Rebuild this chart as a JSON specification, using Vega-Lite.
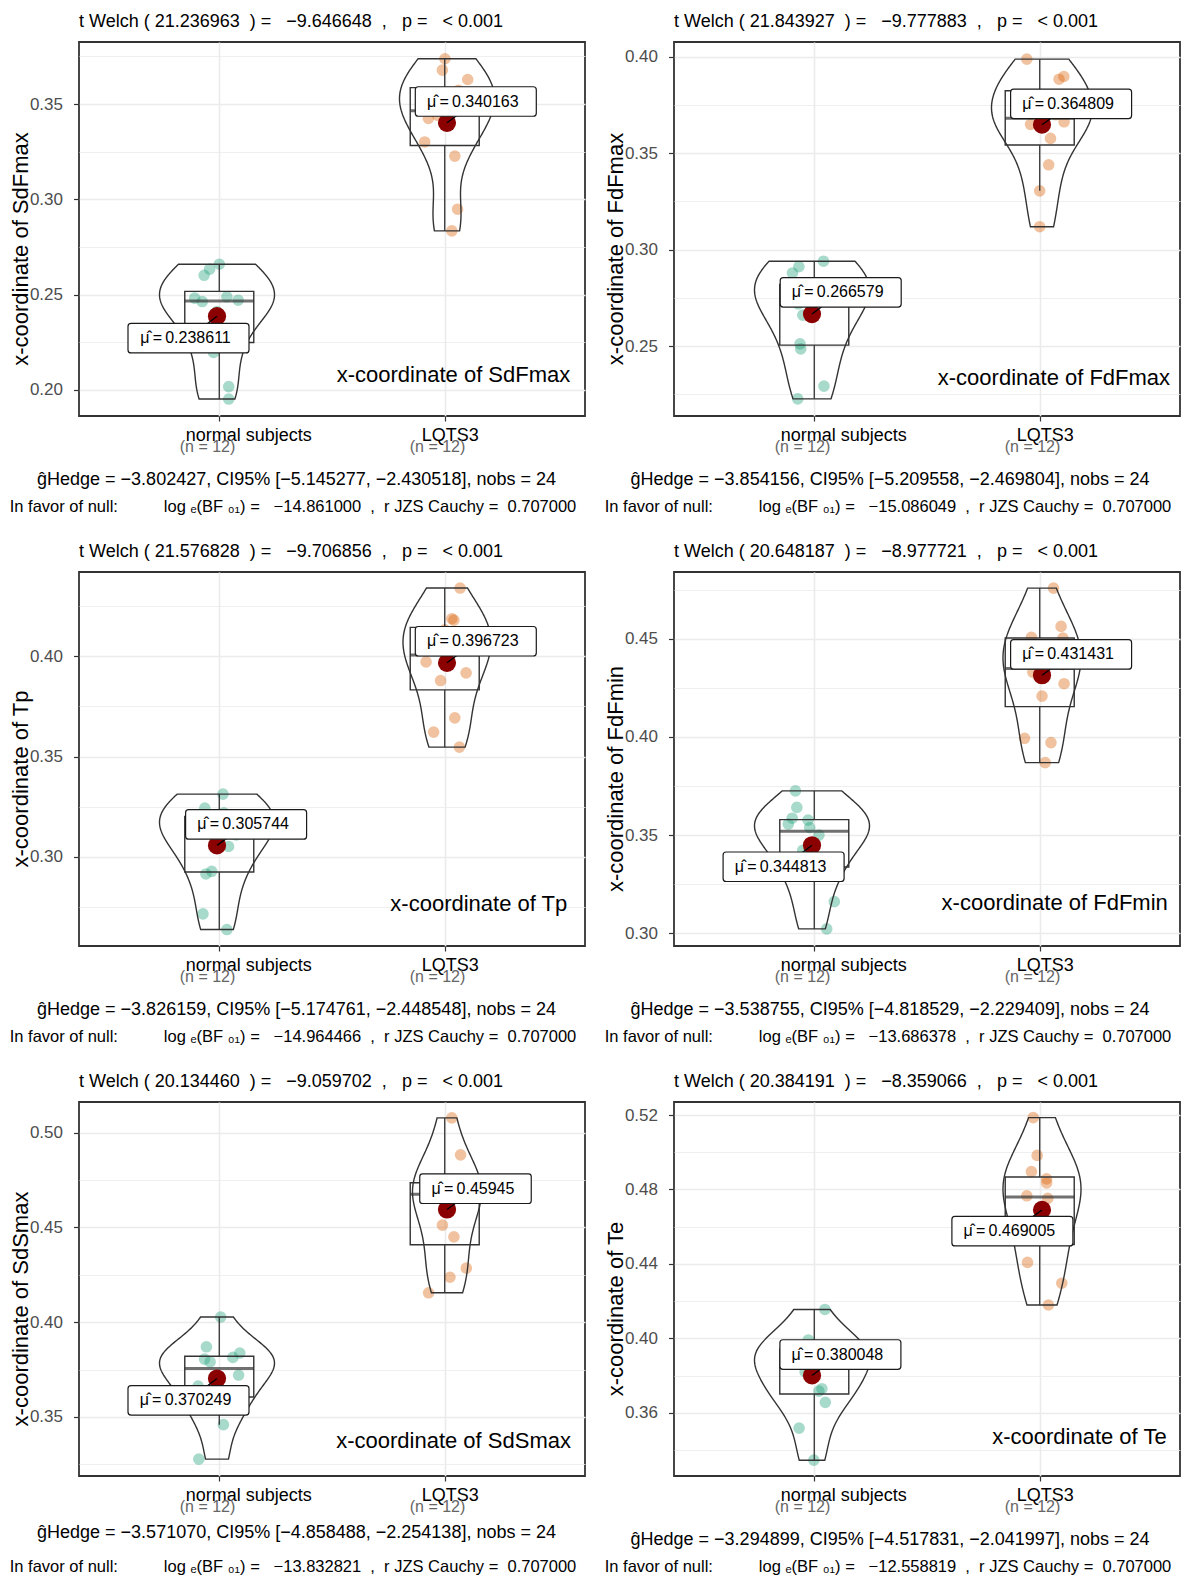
{
"$schema": "https://vega.github.io/schema/vega-lite/v6.json",
"background": "white",
"padding": {"left": 8, "top": 11, "right": 4, "bottom": 4},
"config": {"font": "Liberation Sans", "view": {"stroke": "#333333", "strokeWidth": 1.8}, "title": {"fontWeight": "normal"}},
"datasets": {
"pts": [
{"p":"SdFmax","pos":1,"xj":1.01,"v":0.2659},{"p":"SdFmax","pos":1,"xj":0.968,"v":0.2633},{"p":"SdFmax","pos":1,"xj":0.944,"v":0.2601},{"p":"SdFmax","pos":1,"xj":0.903,"v":0.2481},{"p":"SdFmax","pos":1,"xj":0.936,"v":0.2463},{"p":"SdFmax","pos":1,"xj":1.043,"v":0.2488},{"p":"SdFmax","pos":1,"xj":1.092,"v":0.2470},{"p":"SdFmax","pos":1,"xj":0.985,"v":0.2196},{"p":"SdFmax","pos":1,"xj":1.051,"v":0.2016},{"p":"SdFmax","pos":1,"xj":1.051,"v":0.1951},{"p":"SdFmax","pos":1,"xj":0.97,"v":0.2265},{"p":"SdFmax","pos":1,"xj":1.0,"v":0.2410},
{"p":"SdFmax","pos":2,"xj":1.991,"v":0.3738},{"p":"SdFmax","pos":2,"xj":1.98,"v":0.3678},{"p":"SdFmax","pos":2,"xj":2.09,"v":0.3629},{"p":"SdFmax","pos":2,"xj":1.919,"v":0.3425},{"p":"SdFmax","pos":2,"xj":1.903,"v":0.3301},{"p":"SdFmax","pos":2,"xj":2.034,"v":0.3227},{"p":"SdFmax","pos":2,"xj":2.046,"v":0.2948},{"p":"SdFmax","pos":2,"xj":2.021,"v":0.2834},{"p":"SdFmax","pos":2,"xj":2.05,"v":0.3572},{"p":"SdFmax","pos":2,"xj":1.96,"v":0.3440},{"p":"SdFmax","pos":2,"xj":2.04,"v":0.3490},{"p":"SdFmax","pos":2,"xj":1.97,"v":0.3538},
{"p":"FdFmax","pos":1,"xj":1.05,"v":0.2940},{"p":"FdFmax","pos":1,"xj":0.943,"v":0.2912},{"p":"FdFmax","pos":1,"xj":0.915,"v":0.2879},{"p":"FdFmax","pos":1,"xj":0.948,"v":0.2511},{"p":"FdFmax","pos":1,"xj":0.951,"v":0.2485},{"p":"FdFmax","pos":1,"xj":1.052,"v":0.2292},{"p":"FdFmax","pos":1,"xj":0.938,"v":0.2226},{"p":"FdFmax","pos":1,"xj":0.96,"v":0.2660},{"p":"FdFmax","pos":1,"xj":0.94,"v":0.2718},{"p":"FdFmax","pos":1,"xj":1.03,"v":0.2780},{"p":"FdFmax","pos":1,"xj":0.99,"v":0.2787},{"p":"FdFmax","pos":1,"xj":1.06,"v":0.2800},
{"p":"FdFmax","pos":2,"xj":1.934,"v":0.3988},{"p":"FdFmax","pos":2,"xj":2.074,"v":0.3884},{"p":"FdFmax","pos":2,"xj":2.095,"v":0.3898},{"p":"FdFmax","pos":2,"xj":2.096,"v":0.3663},{"p":"FdFmax","pos":2,"xj":2.037,"v":0.3577},{"p":"FdFmax","pos":2,"xj":2.029,"v":0.3440},{"p":"FdFmax","pos":2,"xj":1.99,"v":0.3305},{"p":"FdFmax","pos":2,"xj":1.99,"v":0.3119},{"p":"FdFmax","pos":2,"xj":1.95,"v":0.3650},{"p":"FdFmax","pos":2,"xj":2.06,"v":0.3700},{"p":"FdFmax","pos":2,"xj":1.97,"v":0.3749},{"p":"FdFmax","pos":2,"xj":2.03,"v":0.3804},
{"p":"Tp","pos":1,"xj":1.026,"v":0.3313},{"p":"Tp","pos":1,"xj":0.947,"v":0.3243},{"p":"Tp","pos":1,"xj":1.05,"v":0.3052},{"p":"Tp","pos":1,"xj":0.977,"v":0.2928},{"p":"Tp","pos":1,"xj":0.952,"v":0.2915},{"p":"Tp","pos":1,"xj":0.939,"v":0.2716},{"p":"Tp","pos":1,"xj":1.043,"v":0.2638},{"p":"Tp","pos":1,"xj":1.084,"v":0.3110},{"p":"Tp","pos":1,"xj":0.96,"v":0.3165},{"p":"Tp","pos":1,"xj":1.06,"v":0.3194},{"p":"Tp","pos":1,"xj":0.93,"v":0.3195},{"p":"Tp","pos":1,"xj":1.03,"v":0.3220},
{"p":"Tp","pos":2,"xj":2.057,"v":0.4340},{"p":"Tp","pos":2,"xj":2.021,"v":0.4187},{"p":"Tp","pos":2,"xj":1.909,"v":0.3972},{"p":"Tp","pos":2,"xj":2.083,"v":0.3917},{"p":"Tp","pos":2,"xj":1.972,"v":0.3879},{"p":"Tp","pos":2,"xj":2.034,"v":0.3693},{"p":"Tp","pos":2,"xj":1.942,"v":0.3622},{"p":"Tp","pos":2,"xj":2.054,"v":0.3547},{"p":"Tp","pos":2,"xj":2.03,"v":0.4180},{"p":"Tp","pos":2,"xj":1.99,"v":0.4132},{"p":"Tp","pos":2,"xj":1.95,"v":0.4040},{"p":"Tp","pos":2,"xj":2.05,"v":0.4098},
{"p":"FdFmin","pos":1,"xj":0.928,"v":0.3725},{"p":"FdFmin","pos":1,"xj":0.934,"v":0.3641},{"p":"FdFmin","pos":1,"xj":0.914,"v":0.3586},{"p":"FdFmin","pos":1,"xj":0.983,"v":0.3576},{"p":"FdFmin","pos":1,"xj":0.897,"v":0.3556},{"p":"FdFmin","pos":1,"xj":1.097,"v":0.3161},{"p":"FdFmin","pos":1,"xj":1.064,"v":0.3022},{"p":"FdFmin","pos":1,"xj":0.95,"v":0.3300},{"p":"FdFmin","pos":1,"xj":1.04,"v":0.3350},{"p":"FdFmin","pos":1,"xj":0.96,"v":0.3423},{"p":"FdFmin","pos":1,"xj":1.03,"v":0.3500},{"p":"FdFmin","pos":1,"xj":0.99,"v":0.3538},
{"p":"FdFmin","pos":2,"xj":2.05,"v":0.4758},{"p":"FdFmin","pos":2,"xj":2.083,"v":0.4563},{"p":"FdFmin","pos":2,"xj":1.954,"v":0.4507},{"p":"FdFmin","pos":2,"xj":2.091,"v":0.4503},{"p":"FdFmin","pos":2,"xj":2.096,"v":0.4271},{"p":"FdFmin","pos":2,"xj":2.0,"v":0.4208},{"p":"FdFmin","pos":2,"xj":1.924,"v":0.3993},{"p":"FdFmin","pos":2,"xj":2.039,"v":0.3971},{"p":"FdFmin","pos":2,"xj":2.014,"v":0.3869},{"p":"FdFmin","pos":2,"xj":2.09,"v":0.4368},{"p":"FdFmin","pos":2,"xj":1.96,"v":0.4330},{"p":"FdFmin","pos":2,"xj":2.03,"v":0.4431},
{"p":"SdSmax","pos":1,"xj":1.016,"v":0.4027},{"p":"SdSmax","pos":1,"xj":0.954,"v":0.3870},{"p":"SdSmax","pos":1,"xj":0.946,"v":0.3805},{"p":"SdSmax","pos":1,"xj":1.069,"v":0.3814},{"p":"SdSmax","pos":1,"xj":1.099,"v":0.3837},{"p":"SdSmax","pos":1,"xj":1.094,"v":0.3721},{"p":"SdSmax","pos":1,"xj":0.918,"v":0.3663},{"p":"SdSmax","pos":1,"xj":1.028,"v":0.3459},{"p":"SdSmax","pos":1,"xj":0.921,"v":0.3277},{"p":"SdSmax","pos":1,"xj":0.97,"v":0.3790},{"p":"SdSmax","pos":1,"xj":0.96,"v":0.3540},{"p":"SdSmax","pos":1,"xj":1.04,"v":0.3627},
{"p":"SdSmax","pos":2,"xj":2.021,"v":0.5078},{"p":"SdSmax","pos":2,"xj":2.059,"v":0.4883},{"p":"SdSmax","pos":2,"xj":1.98,"v":0.4512},{"p":"SdSmax","pos":2,"xj":2.03,"v":0.4450},{"p":"SdSmax","pos":2,"xj":2.084,"v":0.4285},{"p":"SdSmax","pos":2,"xj":2.013,"v":0.4237},{"p":"SdSmax","pos":2,"xj":1.92,"v":0.4155},{"p":"SdSmax","pos":2,"xj":2.04,"v":0.4670},{"p":"SdSmax","pos":2,"xj":1.96,"v":0.4680},{"p":"SdSmax","pos":2,"xj":2.06,"v":0.4700},{"p":"SdSmax","pos":2,"xj":1.97,"v":0.4730},{"p":"SdSmax","pos":2,"xj":2.02,"v":0.4754},
{"p":"Te","pos":1,"xj":1.056,"v":0.4155},{"p":"Te","pos":1,"xj":0.984,"v":0.3991},{"p":"Te","pos":1,"xj":1.043,"v":0.3729},{"p":"Te","pos":1,"xj":1.03,"v":0.3716},{"p":"Te","pos":1,"xj":1.058,"v":0.3656},{"p":"Te","pos":1,"xj":0.944,"v":0.3517},{"p":"Te","pos":1,"xj":1.008,"v":0.3345},{"p":"Te","pos":1,"xj":0.97,"v":0.3820},{"p":"Te","pos":1,"xj":1.05,"v":0.3870},{"p":"Te","pos":1,"xj":0.95,"v":0.3911},{"p":"Te","pos":1,"xj":1.02,"v":0.3936},{"p":"Te","pos":1,"xj":0.99,"v":0.3960},
{"p":"Te","pos":2,"xj":1.962,"v":0.5186},{"p":"Te","pos":2,"xj":1.979,"v":0.4983},{"p":"Te","pos":2,"xj":1.954,"v":0.4896},{"p":"Te","pos":2,"xj":2.02,"v":0.4857},{"p":"Te","pos":2,"xj":2.02,"v":0.4835},{"p":"Te","pos":2,"xj":1.934,"v":0.4766},{"p":"Te","pos":2,"xj":2.025,"v":0.4752},{"p":"Te","pos":2,"xj":1.937,"v":0.4408},{"p":"Te","pos":2,"xj":2.086,"v":0.4296},{"p":"Te","pos":2,"xj":2.028,"v":0.4179},{"p":"Te","pos":2,"xj":1.96,"v":0.4536},{"p":"Te","pos":2,"xj":2.04,"v":0.4587}
],
"means": [
{"p":"SdFmax","pos":1,"v":0.238611,"label":"\u03bc\u0302\u2009=\u20090.238611"},{"p":"SdFmax","pos":2,"v":0.340163,"label":"\u03bc\u0302\u2009=\u20090.340163"},
{"p":"FdFmax","pos":1,"v":0.266579,"label":"\u03bc\u0302\u2009=\u20090.266579"},{"p":"FdFmax","pos":2,"v":0.364809,"label":"\u03bc\u0302\u2009=\u20090.364809"},
{"p":"Tp","pos":1,"v":0.305744,"label":"\u03bc\u0302\u2009=\u20090.305744"},{"p":"Tp","pos":2,"v":0.396723,"label":"\u03bc\u0302\u2009=\u20090.396723"},
{"p":"FdFmin","pos":1,"v":0.344813,"label":"\u03bc\u0302\u2009=\u20090.344813"},{"p":"FdFmin","pos":2,"v":0.431431,"label":"\u03bc\u0302\u2009=\u20090.431431"},
{"p":"SdSmax","pos":1,"v":0.370249,"label":"\u03bc\u0302\u2009=\u20090.370249"},{"p":"SdSmax","pos":2,"v":0.45945,"label":"\u03bc\u0302\u2009=\u20090.45945"},
{"p":"Te","pos":1,"v":0.380048,"label":"\u03bc\u0302\u2009=\u20090.380048"},{"p":"Te","pos":2,"v":0.469005,"label":"\u03bc\u0302\u2009=\u20090.469005"}
]
},
"spacing": 25,
"vconcat": [
{"hconcat": [
{
"width": 506, "height": 374,
"title": {"text": "t Welch ( 21.236963\u00a0\u00a0) =\u00a0\u00a0\u00a0\u22129.646648\u00a0\u00a0,\u00a0\u00a0\u00a0p =\u00a0\u00a0\u00a0< 0.001", "anchor": "start", "frame": "group", "fontSize": 18, "fontWeight": "normal", "color": "#000000", "offset": -2.7, "baseline": "alphabetic"},
"layer": [
{"data": {"name": "pts"}, "transform": [{"filter": "datum.p == 'SdFmax'"}], "mark": {"type": "circle", "size": 135, "opacity": 0.38}, "encoding": {"x": {"field": "xj", "type": "quantitative", "scale": {"domain": [0.4, 2.6], "nice": false, "zero": false}, "axis": null}, "y": {"field": "v", "type": "quantitative", "title": "x-coordinate of SdFmax", "scale": {"domain": [0.1862, 0.3826], "nice": false, "zero": false}, "axis": {"values": [0.2, 0.225, 0.25, 0.275, 0.3, 0.325, 0.35, 0.375], "labelExpr": "abs(datum.value*20 - round(datum.value*20)) < 0.001 ? format(datum.value, '.2f') : ''", "labelFontSize": 17, "labelColor": "#4D4D4D", "labelPadding": 11, "labelOverlap": false, "labelFlush": false, "tickSize": 5.5, "tickColor": "#333333", "tickWidth": 1.2, "tickOpacity": {"condition": {"test": "abs(datum.value*20 - round(datum.value*20)) < 0.001", "value": 1}, "value": 0}, "grid": true, "gridColor": "#EBEBEB", "gridWidth": {"condition": {"test": "abs(datum.value*20 - round(datum.value*20)) < 0.001", "value": 1.6}, "value": 0.8}, "domain": false, "titleFontSize": 22, "titleFontWeight": "normal", "titleColor": "#000000", "titleAngle": 270, "titleX": -52, "titleY": 206.5, "titleAlign": "center", "titleBaseline": "alphabetic"}}, "color": {"field": "pos", "type": "nominal", "scale": {"domain": [1, 2], "range": ["#1B9E77", "#D95F02"]}, "legend": null}}},
{"data": {"name": "pts"}, "transform": [{"filter": "datum.p == 'SdFmax'"}], "mark": {"type": "boxplot", "size": 69, "extent": 1.5, "outliers": false, "box": {"fill": "transparent", "stroke": "#333333", "strokeWidth": 1.4}, "median": {"color": "#333333", "thickness": 3}, "rule": {"color": "#333333", "strokeWidth": 1.3}}, "encoding": {"x": {"field": "pos", "type": "quantitative", "scale": {"domain": [0.4, 2.6], "nice": false, "zero": false}, "axis": {"orient": "bottom", "values": [1, 2], "labelExpr": "datum.value == 1 ? 'normal subjects' : 'LQTS3'", "labelFontSize": 18, "labelColor": "#000000", "labelPadding": 5, "labelOffset": {"condition": {"test": "datum.value == 1", "value": 29}, "value": 5}, "labelFlush": false, "labelOverlap": false, "labelBound": false, "tickSize": 5, "tickColor": "#333333", "tickWidth": 1.2, "grid": true, "gridColor": "#EBEBEB", "gridWidth": 1.6, "domain": false, "title": "\u011dHedge = \u22123.802427, CI95% [\u22125.145277, \u22122.430518], nobs = 24", "titleFontSize": 18, "titleFontWeight": "normal", "titleColor": "#000000", "titleX": 217, "titleY": 68, "titleAlign": "center", "titleBaseline": "alphabetic"}}, "y": {"field": "v", "type": "quantitative", "title": "x-coordinate of SdFmax", "scale": {"domain": [0.1862, 0.3826], "nice": false, "zero": false}}}},
{"data": {"name": "pts"}, "transform": [{"filter": "datum.p == 'SdFmax' && datum.pos == 1"}, {"density": "v", "as": ["v", "density"], "steps": 120}], "mark": {"type": "area", "orient": "horizontal", "fill": "transparent", "stroke": "#333333", "strokeWidth": 1.4}, "encoding": {"x": {"field": "density", "type": "quantitative", "stack": "center", "impute": null, "scale": {"nice": false, "zero": true, "range": [80.5, 195.5]}, "axis": null}, "y": {"field": "v", "type": "quantitative", "title": "x-coordinate of SdFmax", "scale": {"domain": [0.1862, 0.3826], "nice": false, "zero": false}}}},
{"data": {"name": "pts"}, "transform": [{"filter": "datum.p == 'SdFmax' && datum.pos == 2"}, {"density": "v", "as": ["v", "density"], "steps": 120}], "mark": {"type": "area", "orient": "horizontal", "fill": "transparent", "stroke": "#333333", "strokeWidth": 1.4}, "encoding": {"x": {"field": "density", "type": "quantitative", "stack": "center", "impute": null, "scale": {"nice": false, "zero": true, "range": [320.5, 415.5]}, "axis": null}, "y": {"field": "v", "type": "quantitative", "title": "x-coordinate of SdFmax", "scale": {"domain": [0.1862, 0.3826], "nice": false, "zero": false}}}},
{"data": {"name": "means"}, "transform": [{"filter": "datum.p == 'SdFmax'"}], "mark": {"type": "circle", "size": 330, "color": "#8B0000", "opacity": 1}, "encoding": {"x": {"field": "pos", "type": "quantitative", "scale": {"domain": [0.4, 2.6], "nice": false, "zero": false}, "axis": null}, "y": {"field": "v", "type": "quantitative", "title": "x-coordinate of SdFmax", "scale": {"domain": [0.1862, 0.3826], "nice": false, "zero": false}}}},
{"data": {"name": "means"}, "transform": [{"filter": "datum.p == 'SdFmax' && datum.pos == 1"}], "mark": {"type": "rule", "color": "#000000", "strokeWidth": 1.3, "x2Offset": -28.5, "y2Offset": 22}, "encoding": {"x": {"field": "pos", "type": "quantitative", "scale": {"domain": [0.4, 2.6], "nice": false, "zero": false}, "axis": null}, "x2": {"field": "pos"}, "y": {"field": "v", "type": "quantitative", "title": "x-coordinate of SdFmax", "scale": {"domain": [0.1862, 0.3826], "nice": false, "zero": false}}, "y2": {"field": "v"}}},
{"data": {"name": "means"}, "transform": [{"filter": "datum.p == 'SdFmax' && datum.pos == 1"}], "mark": {"type": "point", "shape": "M-0.95,-0.244L0.95,-0.244Q1,-0.244 1,-0.194L1,0.194Q1,0.244 0.95,0.244L-0.95,0.244Q-1,0.244 -1,0.194L-1,-0.194Q-1,-0.244 -0.95,-0.244Z", "size": 14641, "filled": true, "fill": "#FFFFFF", "stroke": "#1A1A1A", "strokeWidth": 1.2, "opacity": 1, "xOffset": -28.5, "yOffset": 22}, "encoding": {"x": {"field": "pos", "type": "quantitative", "scale": {"domain": [0.4, 2.6], "nice": false, "zero": false}, "axis": null}, "y": {"field": "v", "type": "quantitative", "title": "x-coordinate of SdFmax", "scale": {"domain": [0.1862, 0.3826], "nice": false, "zero": false}}}},
{"data": {"name": "means"}, "transform": [{"filter": "datum.p == 'SdFmax' && datum.pos == 1"}], "mark": {"type": "text", "fontSize": 16, "color": "#000000", "align": "center", "baseline": "middle", "xOffset": -31.5, "yOffset": 22}, "encoding": {"x": {"field": "pos", "type": "quantitative", "scale": {"domain": [0.4, 2.6], "nice": false, "zero": false}, "axis": null}, "y": {"field": "v", "type": "quantitative", "title": "x-coordinate of SdFmax", "scale": {"domain": [0.1862, 0.3826], "nice": false, "zero": false}}, "text": {"field": "label"}}},
{"data": {"name": "means"}, "transform": [{"filter": "datum.p == 'SdFmax' && datum.pos == 2"}], "mark": {"type": "rule", "color": "#000000", "strokeWidth": 1.3, "x2Offset": 28.8, "y2Offset": -21.3}, "encoding": {"x": {"field": "pos", "type": "quantitative", "scale": {"domain": [0.4, 2.6], "nice": false, "zero": false}, "axis": null}, "x2": {"field": "pos"}, "y": {"field": "v", "type": "quantitative", "title": "x-coordinate of SdFmax", "scale": {"domain": [0.1862, 0.3826], "nice": false, "zero": false}}, "y2": {"field": "v"}}},
{"data": {"name": "means"}, "transform": [{"filter": "datum.p == 'SdFmax' && datum.pos == 2"}], "mark": {"type": "point", "shape": "M-0.95,-0.244L0.95,-0.244Q1,-0.244 1,-0.194L1,0.194Q1,0.244 0.95,0.244L-0.95,0.244Q-1,0.244 -1,0.194L-1,-0.194Q-1,-0.244 -0.95,-0.244Z", "size": 14641, "filled": true, "fill": "#FFFFFF", "stroke": "#1A1A1A", "strokeWidth": 1.2, "opacity": 1, "xOffset": 28.8, "yOffset": -21.3}, "encoding": {"x": {"field": "pos", "type": "quantitative", "scale": {"domain": [0.4, 2.6], "nice": false, "zero": false}, "axis": null}, "y": {"field": "v", "type": "quantitative", "title": "x-coordinate of SdFmax", "scale": {"domain": [0.1862, 0.3826], "nice": false, "zero": false}}}},
{"data": {"name": "means"}, "transform": [{"filter": "datum.p == 'SdFmax' && datum.pos == 2"}], "mark": {"type": "text", "fontSize": 16, "color": "#000000", "align": "center", "baseline": "middle", "xOffset": 25.8, "yOffset": -21.3}, "encoding": {"x": {"field": "pos", "type": "quantitative", "scale": {"domain": [0.4, 2.6], "nice": false, "zero": false}, "axis": null}, "y": {"field": "v", "type": "quantitative", "title": "x-coordinate of SdFmax", "scale": {"domain": [0.1862, 0.3826], "nice": false, "zero": false}}, "text": {"field": "label"}}},
{"data": {"name": "means"}, "transform": [{"filter": "datum.p == 'SdFmax' && datum.pos == 1"}], "mark": {"type": "text", "align": "right", "baseline": "alphabetic", "fontSize": 22, "color": "#000000"}, "encoding": {"x": {"datum": 2.536, "type": "quantitative", "scale": {"domain": [0.4, 2.6], "nice": false, "zero": false}, "axis": null}, "y": {"datum": 0.2042, "type": "quantitative", "title": "x-coordinate of SdFmax", "scale": {"domain": [0.1862, 0.3826], "nice": false, "zero": false}}, "text": {"value": "x-coordinate of SdFmax"}}},
{"data": {"name": "means"}, "transform": [{"filter": "datum.p == 'SdFmax'"}], "mark": {"type": "point", "opacity": 0}, "encoding": {"x": {"field": "pos", "type": "quantitative", "scale": {"domain": [0.4, 2.6], "nice": false, "zero": false}, "axis": {"orient": "bottom", "values": [1, 2], "labelExpr": "'(n = 12)'", "labelFontSize": 16, "labelColor": "#666666", "labelPadding": 17, "labelOffset": -10, "labelFlush": false, "labelOverlap": false, "labelBound": false, "ticks": true, "tickSize": 5, "tickOpacity": 0, "grid": false, "domain": false, "title": "In favor of null:\u00a0\u00a0\u00a0\u00a0\u00a0\u00a0\u00a0\u00a0\u00a0\u00a0log\u00a0\u2091(BF\u00a0\u2080\u2081) =\u00a0\u00a0\u00a0\u221214.861000\u00a0\u00a0,\u00a0\u00a0r JZS Cauchy =\u00a0\u00a00.707000", "titleFontSize": 16.5, "titleFontWeight": "normal", "titleColor": "#000000", "titleX": 213.5, "titleY": 95.5, "titleAlign": "center", "titleBaseline": "alphabetic"}}, "y": {"field": "v", "type": "quantitative", "title": "x-coordinate of SdFmax", "scale": {"domain": [0.1862, 0.3826], "nice": false, "zero": false}}}}
],
"resolve": {"scale": {"x": "independent"}, "axis": {"x": "independent"}}
},
{
"width": 506, "height": 374,
"title": {"text": "t Welch ( 21.843927\u00a0\u00a0) =\u00a0\u00a0\u00a0\u22129.777883\u00a0\u00a0,\u00a0\u00a0\u00a0p =\u00a0\u00a0\u00a0< 0.001", "anchor": "start", "frame": "group", "fontSize": 18, "fontWeight": "normal", "color": "#000000", "offset": -2.7, "baseline": "alphabetic"},
"layer": [
{"data": {"name": "pts"}, "transform": [{"filter": "datum.p == 'FdFmax'"}], "mark": {"type": "circle", "size": 135, "opacity": 0.38}, "encoding": {"x": {"field": "xj", "type": "quantitative", "scale": {"domain": [0.4, 2.6], "nice": false, "zero": false}, "axis": null}, "y": {"field": "v", "type": "quantitative", "title": "x-coordinate of FdFmax", "scale": {"domain": [0.2137, 0.4077], "nice": false, "zero": false}, "axis": {"values": [0.225, 0.25, 0.275, 0.3, 0.325, 0.35, 0.375, 0.4], "labelExpr": "abs(datum.value*20 - round(datum.value*20)) < 0.001 ? format(datum.value, '.2f') : ''", "labelFontSize": 17, "labelColor": "#4D4D4D", "labelPadding": 11, "labelOverlap": false, "labelFlush": false, "tickSize": 5.5, "tickColor": "#333333", "tickWidth": 1.2, "tickOpacity": {"condition": {"test": "abs(datum.value*20 - round(datum.value*20)) < 0.001", "value": 1}, "value": 0}, "grid": true, "gridColor": "#EBEBEB", "gridWidth": {"condition": {"test": "abs(datum.value*20 - round(datum.value*20)) < 0.001", "value": 1.6}, "value": 0.8}, "domain": false, "titleFontSize": 22, "titleFontWeight": "normal", "titleColor": "#000000", "titleAngle": 270, "titleX": -52, "titleY": 206.5, "titleAlign": "center", "titleBaseline": "alphabetic"}}, "color": {"field": "pos", "type": "nominal", "scale": {"domain": [1, 2], "range": ["#1B9E77", "#D95F02"]}, "legend": null}}},
{"data": {"name": "pts"}, "transform": [{"filter": "datum.p == 'FdFmax'"}], "mark": {"type": "boxplot", "size": 69, "extent": 1.5, "outliers": false, "box": {"fill": "transparent", "stroke": "#333333", "strokeWidth": 1.4}, "median": {"color": "#333333", "thickness": 3}, "rule": {"color": "#333333", "strokeWidth": 1.3}}, "encoding": {"x": {"field": "pos", "type": "quantitative", "scale": {"domain": [0.4, 2.6], "nice": false, "zero": false}, "axis": {"orient": "bottom", "values": [1, 2], "labelExpr": "datum.value == 1 ? 'normal subjects' : 'LQTS3'", "labelFontSize": 18, "labelColor": "#000000", "labelPadding": 5, "labelOffset": {"condition": {"test": "datum.value == 1", "value": 29}, "value": 5}, "labelFlush": false, "labelOverlap": false, "labelBound": false, "tickSize": 5, "tickColor": "#333333", "tickWidth": 1.2, "grid": true, "gridColor": "#EBEBEB", "gridWidth": 1.6, "domain": false, "title": "\u011dHedge = \u22123.854156, CI95% [\u22125.209558, \u22122.469804], nobs = 24", "titleFontSize": 18, "titleFontWeight": "normal", "titleColor": "#000000", "titleX": 215.5, "titleY": 68, "titleAlign": "center", "titleBaseline": "alphabetic"}}, "y": {"field": "v", "type": "quantitative", "title": "x-coordinate of FdFmax", "scale": {"domain": [0.2137, 0.4077], "nice": false, "zero": false}}}},
{"data": {"name": "pts"}, "transform": [{"filter": "datum.p == 'FdFmax' && datum.pos == 1"}, {"density": "v", "as": ["v", "density"], "steps": 120}], "mark": {"type": "area", "orient": "horizontal", "fill": "transparent", "stroke": "#333333", "strokeWidth": 1.4}, "encoding": {"x": {"field": "density", "type": "quantitative", "stack": "center", "impute": null, "scale": {"nice": false, "zero": true, "range": [80.5, 195.5]}, "axis": null}, "y": {"field": "v", "type": "quantitative", "title": "x-coordinate of FdFmax", "scale": {"domain": [0.2137, 0.4077], "nice": false, "zero": false}}}},
{"data": {"name": "pts"}, "transform": [{"filter": "datum.p == 'FdFmax' && datum.pos == 2"}, {"density": "v", "as": ["v", "density"], "steps": 120}], "mark": {"type": "area", "orient": "horizontal", "fill": "transparent", "stroke": "#333333", "strokeWidth": 1.4}, "encoding": {"x": {"field": "density", "type": "quantitative", "stack": "center", "impute": null, "scale": {"nice": false, "zero": true, "range": [317.5, 418.5]}, "axis": null}, "y": {"field": "v", "type": "quantitative", "title": "x-coordinate of FdFmax", "scale": {"domain": [0.2137, 0.4077], "nice": false, "zero": false}}}},
{"data": {"name": "means"}, "transform": [{"filter": "datum.p == 'FdFmax'"}], "mark": {"type": "circle", "size": 330, "color": "#8B0000", "opacity": 1}, "encoding": {"x": {"field": "pos", "type": "quantitative", "scale": {"domain": [0.4, 2.6], "nice": false, "zero": false}, "axis": null}, "y": {"field": "v", "type": "quantitative", "title": "x-coordinate of FdFmax", "scale": {"domain": [0.2137, 0.4077], "nice": false, "zero": false}}}},
{"data": {"name": "means"}, "transform": [{"filter": "datum.p == 'FdFmax' && datum.pos == 1"}], "mark": {"type": "rule", "color": "#000000", "strokeWidth": 1.3, "x2Offset": 28.7, "y2Offset": -21.7}, "encoding": {"x": {"field": "pos", "type": "quantitative", "scale": {"domain": [0.4, 2.6], "nice": false, "zero": false}, "axis": null}, "x2": {"field": "pos"}, "y": {"field": "v", "type": "quantitative", "title": "x-coordinate of FdFmax", "scale": {"domain": [0.2137, 0.4077], "nice": false, "zero": false}}, "y2": {"field": "v"}}},
{"data": {"name": "means"}, "transform": [{"filter": "datum.p == 'FdFmax' && datum.pos == 1"}], "mark": {"type": "point", "shape": "M-0.95,-0.244L0.95,-0.244Q1,-0.244 1,-0.194L1,0.194Q1,0.244 0.95,0.244L-0.95,0.244Q-1,0.244 -1,0.194L-1,-0.194Q-1,-0.244 -0.95,-0.244Z", "size": 14641, "filled": true, "fill": "#FFFFFF", "stroke": "#1A1A1A", "strokeWidth": 1.2, "opacity": 1, "xOffset": 28.7, "yOffset": -21.7}, "encoding": {"x": {"field": "pos", "type": "quantitative", "scale": {"domain": [0.4, 2.6], "nice": false, "zero": false}, "axis": null}, "y": {"field": "v", "type": "quantitative", "title": "x-coordinate of FdFmax", "scale": {"domain": [0.2137, 0.4077], "nice": false, "zero": false}}}},
{"data": {"name": "means"}, "transform": [{"filter": "datum.p == 'FdFmax' && datum.pos == 1"}], "mark": {"type": "text", "fontSize": 16, "color": "#000000", "align": "center", "baseline": "middle", "xOffset": 25.7, "yOffset": -21.7}, "encoding": {"x": {"field": "pos", "type": "quantitative", "scale": {"domain": [0.4, 2.6], "nice": false, "zero": false}, "axis": null}, "y": {"field": "v", "type": "quantitative", "title": "x-coordinate of FdFmax", "scale": {"domain": [0.2137, 0.4077], "nice": false, "zero": false}}, "text": {"field": "label"}}},
{"data": {"name": "means"}, "transform": [{"filter": "datum.p == 'FdFmax' && datum.pos == 2"}], "mark": {"type": "rule", "color": "#000000", "strokeWidth": 1.3, "x2Offset": 29.1, "y2Offset": -20.8}, "encoding": {"x": {"field": "pos", "type": "quantitative", "scale": {"domain": [0.4, 2.6], "nice": false, "zero": false}, "axis": null}, "x2": {"field": "pos"}, "y": {"field": "v", "type": "quantitative", "title": "x-coordinate of FdFmax", "scale": {"domain": [0.2137, 0.4077], "nice": false, "zero": false}}, "y2": {"field": "v"}}},
{"data": {"name": "means"}, "transform": [{"filter": "datum.p == 'FdFmax' && datum.pos == 2"}], "mark": {"type": "point", "shape": "M-0.95,-0.244L0.95,-0.244Q1,-0.244 1,-0.194L1,0.194Q1,0.244 0.95,0.244L-0.95,0.244Q-1,0.244 -1,0.194L-1,-0.194Q-1,-0.244 -0.95,-0.244Z", "size": 14641, "filled": true, "fill": "#FFFFFF", "stroke": "#1A1A1A", "strokeWidth": 1.2, "opacity": 1, "xOffset": 29.1, "yOffset": -20.8}, "encoding": {"x": {"field": "pos", "type": "quantitative", "scale": {"domain": [0.4, 2.6], "nice": false, "zero": false}, "axis": null}, "y": {"field": "v", "type": "quantitative", "title": "x-coordinate of FdFmax", "scale": {"domain": [0.2137, 0.4077], "nice": false, "zero": false}}}},
{"data": {"name": "means"}, "transform": [{"filter": "datum.p == 'FdFmax' && datum.pos == 2"}], "mark": {"type": "text", "fontSize": 16, "color": "#000000", "align": "center", "baseline": "middle", "xOffset": 26.1, "yOffset": -20.8}, "encoding": {"x": {"field": "pos", "type": "quantitative", "scale": {"domain": [0.4, 2.6], "nice": false, "zero": false}, "axis": null}, "y": {"field": "v", "type": "quantitative", "title": "x-coordinate of FdFmax", "scale": {"domain": [0.2137, 0.4077], "nice": false, "zero": false}}, "text": {"field": "label"}}},
{"data": {"name": "means"}, "transform": [{"filter": "datum.p == 'FdFmax' && datum.pos == 1"}], "mark": {"type": "text", "align": "right", "baseline": "alphabetic", "fontSize": 22, "color": "#000000"}, "encoding": {"x": {"datum": 2.557, "type": "quantitative", "scale": {"domain": [0.4, 2.6], "nice": false, "zero": false}, "axis": null}, "y": {"datum": 0.2300, "type": "quantitative", "title": "x-coordinate of FdFmax", "scale": {"domain": [0.2137, 0.4077], "nice": false, "zero": false}}, "text": {"value": "x-coordinate of FdFmax"}}},
{"data": {"name": "means"}, "transform": [{"filter": "datum.p == 'FdFmax'"}], "mark": {"type": "point", "opacity": 0}, "encoding": {"x": {"field": "pos", "type": "quantitative", "scale": {"domain": [0.4, 2.6], "nice": false, "zero": false}, "axis": {"orient": "bottom", "values": [1, 2], "labelExpr": "'(n = 12)'", "labelFontSize": 16, "labelColor": "#666666", "labelPadding": 17, "labelOffset": -10, "labelFlush": false, "labelOverlap": false, "labelBound": false, "ticks": true, "tickSize": 5, "tickOpacity": 0, "grid": false, "domain": false, "title": "In favor of null:\u00a0\u00a0\u00a0\u00a0\u00a0\u00a0\u00a0\u00a0\u00a0\u00a0log\u00a0\u2091(BF\u00a0\u2080\u2081) =\u00a0\u00a0\u00a0\u221215.086049\u00a0\u00a0,\u00a0\u00a0r JZS Cauchy =\u00a0\u00a00.707000", "titleFontSize": 16.5, "titleFontWeight": "normal", "titleColor": "#000000", "titleX": 213.5, "titleY": 95.5, "titleAlign": "center", "titleBaseline": "alphabetic"}}, "y": {"field": "v", "type": "quantitative", "title": "x-coordinate of FdFmax", "scale": {"domain": [0.2137, 0.4077], "nice": false, "zero": false}}}}
],
"resolve": {"scale": {"x": "independent"}, "axis": {"x": "independent"}}
}
], "spacing": 17},
{"hconcat": [
{
"width": 506, "height": 374,
"title": {"text": "t Welch ( 21.576828\u00a0\u00a0) =\u00a0\u00a0\u00a0\u22129.706856\u00a0\u00a0,\u00a0\u00a0\u00a0p =\u00a0\u00a0\u00a0< 0.001", "anchor": "start", "frame": "group", "fontSize": 18, "fontWeight": "normal", "color": "#000000", "offset": -2.7, "baseline": "alphabetic"},
"layer": [
{"data": {"name": "pts"}, "transform": [{"filter": "datum.p == 'Tp'"}], "mark": {"type": "circle", "size": 135, "opacity": 0.38}, "encoding": {"x": {"field": "xj", "type": "quantitative", "scale": {"domain": [0.4, 2.6], "nice": false, "zero": false}, "axis": null}, "y": {"field": "v", "type": "quantitative", "title": "x-coordinate of Tp", "scale": {"domain": [0.2556, 0.4420], "nice": false, "zero": false}, "axis": {"values": [0.275, 0.3, 0.325, 0.35, 0.375, 0.4, 0.425], "labelExpr": "abs(datum.value*20 - round(datum.value*20)) < 0.001 ? format(datum.value, '.2f') : ''", "labelFontSize": 17, "labelColor": "#4D4D4D", "labelPadding": 11, "labelOverlap": false, "labelFlush": false, "tickSize": 5.5, "tickColor": "#333333", "tickWidth": 1.2, "tickOpacity": {"condition": {"test": "abs(datum.value*20 - round(datum.value*20)) < 0.001", "value": 1}, "value": 0}, "grid": true, "gridColor": "#EBEBEB", "gridWidth": {"condition": {"test": "abs(datum.value*20 - round(datum.value*20)) < 0.001", "value": 1.6}, "value": 0.8}, "domain": false, "titleFontSize": 22, "titleFontWeight": "normal", "titleColor": "#000000", "titleAngle": 270, "titleX": -52, "titleY": 206.5, "titleAlign": "center", "titleBaseline": "alphabetic"}}, "color": {"field": "pos", "type": "nominal", "scale": {"domain": [1, 2], "range": ["#1B9E77", "#D95F02"]}, "legend": null}}},
{"data": {"name": "pts"}, "transform": [{"filter": "datum.p == 'Tp'"}], "mark": {"type": "boxplot", "size": 69, "extent": 1.5, "outliers": false, "box": {"fill": "transparent", "stroke": "#333333", "strokeWidth": 1.4}, "median": {"color": "#333333", "thickness": 3}, "rule": {"color": "#333333", "strokeWidth": 1.3}}, "encoding": {"x": {"field": "pos", "type": "quantitative", "scale": {"domain": [0.4, 2.6], "nice": false, "zero": false}, "axis": {"orient": "bottom", "values": [1, 2], "labelExpr": "datum.value == 1 ? 'normal subjects' : 'LQTS3'", "labelFontSize": 18, "labelColor": "#000000", "labelPadding": 5, "labelOffset": {"condition": {"test": "datum.value == 1", "value": 29}, "value": 5}, "labelFlush": false, "labelOverlap": false, "labelBound": false, "tickSize": 5, "tickColor": "#333333", "tickWidth": 1.2, "grid": true, "gridColor": "#EBEBEB", "gridWidth": 1.6, "domain": false, "title": "\u011dHedge = \u22123.826159, CI95% [\u22125.174761, \u22122.448548], nobs = 24", "titleFontSize": 18, "titleFontWeight": "normal", "titleColor": "#000000", "titleX": 217, "titleY": 68, "titleAlign": "center", "titleBaseline": "alphabetic"}}, "y": {"field": "v", "type": "quantitative", "title": "x-coordinate of Tp", "scale": {"domain": [0.2556, 0.4420], "nice": false, "zero": false}}}},
{"data": {"name": "pts"}, "transform": [{"filter": "datum.p == 'Tp' && datum.pos == 1"}, {"density": "v", "as": ["v", "density"], "steps": 120}], "mark": {"type": "area", "orient": "horizontal", "fill": "transparent", "stroke": "#333333", "strokeWidth": 1.4}, "encoding": {"x": {"field": "density", "type": "quantitative", "stack": "center", "impute": null, "scale": {"nice": false, "zero": true, "range": [80.5, 195.5]}, "axis": null}, "y": {"field": "v", "type": "quantitative", "title": "x-coordinate of Tp", "scale": {"domain": [0.2556, 0.4420], "nice": false, "zero": false}}}},
{"data": {"name": "pts"}, "transform": [{"filter": "datum.p == 'Tp' && datum.pos == 2"}, {"density": "v", "as": ["v", "density"], "steps": 120}], "mark": {"type": "area", "orient": "horizontal", "fill": "transparent", "stroke": "#333333", "strokeWidth": 1.4}, "encoding": {"x": {"field": "density", "type": "quantitative", "stack": "center", "impute": null, "scale": {"nice": false, "zero": true, "range": [324, 412]}, "axis": null}, "y": {"field": "v", "type": "quantitative", "title": "x-coordinate of Tp", "scale": {"domain": [0.2556, 0.4420], "nice": false, "zero": false}}}},
{"data": {"name": "means"}, "transform": [{"filter": "datum.p == 'Tp'"}], "mark": {"type": "circle", "size": 330, "color": "#8B0000", "opacity": 1}, "encoding": {"x": {"field": "pos", "type": "quantitative", "scale": {"domain": [0.4, 2.6], "nice": false, "zero": false}, "axis": null}, "y": {"field": "v", "type": "quantitative", "title": "x-coordinate of Tp", "scale": {"domain": [0.2556, 0.4420], "nice": false, "zero": false}}}},
{"data": {"name": "means"}, "transform": [{"filter": "datum.p == 'Tp' && datum.pos == 1"}], "mark": {"type": "rule", "color": "#000000", "strokeWidth": 1.3, "x2Offset": 29.1, "y2Offset": -21}, "encoding": {"x": {"field": "pos", "type": "quantitative", "scale": {"domain": [0.4, 2.6], "nice": false, "zero": false}, "axis": null}, "x2": {"field": "pos"}, "y": {"field": "v", "type": "quantitative", "title": "x-coordinate of Tp", "scale": {"domain": [0.2556, 0.4420], "nice": false, "zero": false}}, "y2": {"field": "v"}}},
{"data": {"name": "means"}, "transform": [{"filter": "datum.p == 'Tp' && datum.pos == 1"}], "mark": {"type": "point", "shape": "M-0.95,-0.244L0.95,-0.244Q1,-0.244 1,-0.194L1,0.194Q1,0.244 0.95,0.244L-0.95,0.244Q-1,0.244 -1,0.194L-1,-0.194Q-1,-0.244 -0.95,-0.244Z", "size": 14641, "filled": true, "fill": "#FFFFFF", "stroke": "#1A1A1A", "strokeWidth": 1.2, "opacity": 1, "xOffset": 29.1, "yOffset": -21}, "encoding": {"x": {"field": "pos", "type": "quantitative", "scale": {"domain": [0.4, 2.6], "nice": false, "zero": false}, "axis": null}, "y": {"field": "v", "type": "quantitative", "title": "x-coordinate of Tp", "scale": {"domain": [0.2556, 0.4420], "nice": false, "zero": false}}}},
{"data": {"name": "means"}, "transform": [{"filter": "datum.p == 'Tp' && datum.pos == 1"}], "mark": {"type": "text", "fontSize": 16, "color": "#000000", "align": "center", "baseline": "middle", "xOffset": 26.1, "yOffset": -21}, "encoding": {"x": {"field": "pos", "type": "quantitative", "scale": {"domain": [0.4, 2.6], "nice": false, "zero": false}, "axis": null}, "y": {"field": "v", "type": "quantitative", "title": "x-coordinate of Tp", "scale": {"domain": [0.2556, 0.4420], "nice": false, "zero": false}}, "text": {"field": "label"}}},
{"data": {"name": "means"}, "transform": [{"filter": "datum.p == 'Tp' && datum.pos == 2"}], "mark": {"type": "rule", "color": "#000000", "strokeWidth": 1.3, "x2Offset": 28.8, "y2Offset": -21.6}, "encoding": {"x": {"field": "pos", "type": "quantitative", "scale": {"domain": [0.4, 2.6], "nice": false, "zero": false}, "axis": null}, "x2": {"field": "pos"}, "y": {"field": "v", "type": "quantitative", "title": "x-coordinate of Tp", "scale": {"domain": [0.2556, 0.4420], "nice": false, "zero": false}}, "y2": {"field": "v"}}},
{"data": {"name": "means"}, "transform": [{"filter": "datum.p == 'Tp' && datum.pos == 2"}], "mark": {"type": "point", "shape": "M-0.95,-0.244L0.95,-0.244Q1,-0.244 1,-0.194L1,0.194Q1,0.244 0.95,0.244L-0.95,0.244Q-1,0.244 -1,0.194L-1,-0.194Q-1,-0.244 -0.95,-0.244Z", "size": 14641, "filled": true, "fill": "#FFFFFF", "stroke": "#1A1A1A", "strokeWidth": 1.2, "opacity": 1, "xOffset": 28.8, "yOffset": -21.6}, "encoding": {"x": {"field": "pos", "type": "quantitative", "scale": {"domain": [0.4, 2.6], "nice": false, "zero": false}, "axis": null}, "y": {"field": "v", "type": "quantitative", "title": "x-coordinate of Tp", "scale": {"domain": [0.2556, 0.4420], "nice": false, "zero": false}}}},
{"data": {"name": "means"}, "transform": [{"filter": "datum.p == 'Tp' && datum.pos == 2"}], "mark": {"type": "text", "fontSize": 16, "color": "#000000", "align": "center", "baseline": "middle", "xOffset": 25.8, "yOffset": -21.6}, "encoding": {"x": {"field": "pos", "type": "quantitative", "scale": {"domain": [0.4, 2.6], "nice": false, "zero": false}, "axis": null}, "y": {"field": "v", "type": "quantitative", "title": "x-coordinate of Tp", "scale": {"domain": [0.2556, 0.4420], "nice": false, "zero": false}}, "text": {"field": "label"}}},
{"data": {"name": "means"}, "transform": [{"filter": "datum.p == 'Tp' && datum.pos == 1"}], "mark": {"type": "text", "align": "right", "baseline": "alphabetic", "fontSize": 22, "color": "#000000"}, "encoding": {"x": {"datum": 2.523, "type": "quantitative", "scale": {"domain": [0.4, 2.6], "nice": false, "zero": false}, "axis": null}, "y": {"datum": 0.2729, "type": "quantitative", "title": "x-coordinate of Tp", "scale": {"domain": [0.2556, 0.4420], "nice": false, "zero": false}}, "text": {"value": "x-coordinate of Tp"}}},
{"data": {"name": "means"}, "transform": [{"filter": "datum.p == 'Tp'"}], "mark": {"type": "point", "opacity": 0}, "encoding": {"x": {"field": "pos", "type": "quantitative", "scale": {"domain": [0.4, 2.6], "nice": false, "zero": false}, "axis": {"orient": "bottom", "values": [1, 2], "labelExpr": "'(n = 12)'", "labelFontSize": 16, "labelColor": "#666666", "labelPadding": 17, "labelOffset": -10, "labelFlush": false, "labelOverlap": false, "labelBound": false, "ticks": true, "tickSize": 5, "tickOpacity": 0, "grid": false, "domain": false, "title": "In favor of null:\u00a0\u00a0\u00a0\u00a0\u00a0\u00a0\u00a0\u00a0\u00a0\u00a0log\u00a0\u2091(BF\u00a0\u2080\u2081) =\u00a0\u00a0\u00a0\u221214.964466\u00a0\u00a0,\u00a0\u00a0r JZS Cauchy =\u00a0\u00a00.707000", "titleFontSize": 16.5, "titleFontWeight": "normal", "titleColor": "#000000", "titleX": 213.5, "titleY": 95.5, "titleAlign": "center", "titleBaseline": "alphabetic"}}, "y": {"field": "v", "type": "quantitative", "title": "x-coordinate of Tp", "scale": {"domain": [0.2556, 0.4420], "nice": false, "zero": false}}}}
],
"resolve": {"scale": {"x": "independent"}, "axis": {"x": "independent"}}
},
{
"width": 506, "height": 374,
"title": {"text": "t Welch ( 20.648187\u00a0\u00a0) =\u00a0\u00a0\u00a0\u22128.977721\u00a0\u00a0,\u00a0\u00a0\u00a0p =\u00a0\u00a0\u00a0< 0.001", "anchor": "start", "frame": "group", "fontSize": 18, "fontWeight": "normal", "color": "#000000", "offset": -2.7, "baseline": "alphabetic"},
"layer": [
{"data": {"name": "pts"}, "transform": [{"filter": "datum.p == 'FdFmin'"}], "mark": {"type": "circle", "size": 135, "opacity": 0.38}, "encoding": {"x": {"field": "xj", "type": "quantitative", "scale": {"domain": [0.4, 2.6], "nice": false, "zero": false}, "axis": null}, "y": {"field": "v", "type": "quantitative", "title": "x-coordinate of FdFmin", "scale": {"domain": [0.2935, 0.4840], "nice": false, "zero": false}, "axis": {"values": [0.3, 0.325, 0.35, 0.375, 0.4, 0.425, 0.45, 0.475], "labelExpr": "abs(datum.value*20 - round(datum.value*20)) < 0.001 ? format(datum.value, '.2f') : ''", "labelFontSize": 17, "labelColor": "#4D4D4D", "labelPadding": 11, "labelOverlap": false, "labelFlush": false, "tickSize": 5.5, "tickColor": "#333333", "tickWidth": 1.2, "tickOpacity": {"condition": {"test": "abs(datum.value*20 - round(datum.value*20)) < 0.001", "value": 1}, "value": 0}, "grid": true, "gridColor": "#EBEBEB", "gridWidth": {"condition": {"test": "abs(datum.value*20 - round(datum.value*20)) < 0.001", "value": 1.6}, "value": 0.8}, "domain": false, "titleFontSize": 22, "titleFontWeight": "normal", "titleColor": "#000000", "titleAngle": 270, "titleX": -52, "titleY": 206.5, "titleAlign": "center", "titleBaseline": "alphabetic"}}, "color": {"field": "pos", "type": "nominal", "scale": {"domain": [1, 2], "range": ["#1B9E77", "#D95F02"]}, "legend": null}}},
{"data": {"name": "pts"}, "transform": [{"filter": "datum.p == 'FdFmin'"}], "mark": {"type": "boxplot", "size": 69, "extent": 1.5, "outliers": false, "box": {"fill": "transparent", "stroke": "#333333", "strokeWidth": 1.4}, "median": {"color": "#333333", "thickness": 3}, "rule": {"color": "#333333", "strokeWidth": 1.3}}, "encoding": {"x": {"field": "pos", "type": "quantitative", "scale": {"domain": [0.4, 2.6], "nice": false, "zero": false}, "axis": {"orient": "bottom", "values": [1, 2], "labelExpr": "datum.value == 1 ? 'normal subjects' : 'LQTS3'", "labelFontSize": 18, "labelColor": "#000000", "labelPadding": 5, "labelOffset": {"condition": {"test": "datum.value == 1", "value": 29}, "value": 5}, "labelFlush": false, "labelOverlap": false, "labelBound": false, "tickSize": 5, "tickColor": "#333333", "tickWidth": 1.2, "grid": true, "gridColor": "#EBEBEB", "gridWidth": 1.6, "domain": false, "title": "\u011dHedge = \u22123.538755, CI95% [\u22124.818529, \u22122.229409], nobs = 24", "titleFontSize": 18, "titleFontWeight": "normal", "titleColor": "#000000", "titleX": 215.5, "titleY": 68, "titleAlign": "center", "titleBaseline": "alphabetic"}}, "y": {"field": "v", "type": "quantitative", "title": "x-coordinate of FdFmin", "scale": {"domain": [0.2935, 0.4840], "nice": false, "zero": false}}}},
{"data": {"name": "pts"}, "transform": [{"filter": "datum.p == 'FdFmin' && datum.pos == 1"}, {"density": "v", "as": ["v", "density"], "steps": 120}], "mark": {"type": "area", "orient": "horizontal", "fill": "transparent", "stroke": "#333333", "strokeWidth": 1.4}, "encoding": {"x": {"field": "density", "type": "quantitative", "stack": "center", "impute": null, "scale": {"nice": false, "zero": true, "range": [80.5, 195.5]}, "axis": null}, "y": {"field": "v", "type": "quantitative", "title": "x-coordinate of FdFmin", "scale": {"domain": [0.2935, 0.4840], "nice": false, "zero": false}}}},
{"data": {"name": "pts"}, "transform": [{"filter": "datum.p == 'FdFmin' && datum.pos == 2"}, {"density": "v", "as": ["v", "density"], "steps": 120}], "mark": {"type": "area", "orient": "horizontal", "fill": "transparent", "stroke": "#333333", "strokeWidth": 1.4}, "encoding": {"x": {"field": "density", "type": "quantitative", "stack": "center", "impute": null, "scale": {"nice": false, "zero": true, "range": [329, 407]}, "axis": null}, "y": {"field": "v", "type": "quantitative", "title": "x-coordinate of FdFmin", "scale": {"domain": [0.2935, 0.4840], "nice": false, "zero": false}}}},
{"data": {"name": "means"}, "transform": [{"filter": "datum.p == 'FdFmin'"}], "mark": {"type": "circle", "size": 330, "color": "#8B0000", "opacity": 1}, "encoding": {"x": {"field": "pos", "type": "quantitative", "scale": {"domain": [0.4, 2.6], "nice": false, "zero": false}, "axis": null}, "y": {"field": "v", "type": "quantitative", "title": "x-coordinate of FdFmin", "scale": {"domain": [0.2935, 0.4840], "nice": false, "zero": false}}}},
{"data": {"name": "means"}, "transform": [{"filter": "datum.p == 'FdFmin' && datum.pos == 1"}], "mark": {"type": "rule", "color": "#000000", "strokeWidth": 1.3, "x2Offset": -28.4, "y2Offset": 21.5}, "encoding": {"x": {"field": "pos", "type": "quantitative", "scale": {"domain": [0.4, 2.6], "nice": false, "zero": false}, "axis": null}, "x2": {"field": "pos"}, "y": {"field": "v", "type": "quantitative", "title": "x-coordinate of FdFmin", "scale": {"domain": [0.2935, 0.4840], "nice": false, "zero": false}}, "y2": {"field": "v"}}},
{"data": {"name": "means"}, "transform": [{"filter": "datum.p == 'FdFmin' && datum.pos == 1"}], "mark": {"type": "point", "shape": "M-0.95,-0.244L0.95,-0.244Q1,-0.244 1,-0.194L1,0.194Q1,0.244 0.95,0.244L-0.95,0.244Q-1,0.244 -1,0.194L-1,-0.194Q-1,-0.244 -0.95,-0.244Z", "size": 14641, "filled": true, "fill": "#FFFFFF", "stroke": "#1A1A1A", "strokeWidth": 1.2, "opacity": 1, "xOffset": -28.4, "yOffset": 21.5}, "encoding": {"x": {"field": "pos", "type": "quantitative", "scale": {"domain": [0.4, 2.6], "nice": false, "zero": false}, "axis": null}, "y": {"field": "v", "type": "quantitative", "title": "x-coordinate of FdFmin", "scale": {"domain": [0.2935, 0.4840], "nice": false, "zero": false}}}},
{"data": {"name": "means"}, "transform": [{"filter": "datum.p == 'FdFmin' && datum.pos == 1"}], "mark": {"type": "text", "fontSize": 16, "color": "#000000", "align": "center", "baseline": "middle", "xOffset": -31.4, "yOffset": 21.5}, "encoding": {"x": {"field": "pos", "type": "quantitative", "scale": {"domain": [0.4, 2.6], "nice": false, "zero": false}, "axis": null}, "y": {"field": "v", "type": "quantitative", "title": "x-coordinate of FdFmin", "scale": {"domain": [0.2935, 0.4840], "nice": false, "zero": false}}, "text": {"field": "label"}}},
{"data": {"name": "means"}, "transform": [{"filter": "datum.p == 'FdFmin' && datum.pos == 2"}], "mark": {"type": "rule", "color": "#000000", "strokeWidth": 1.3, "x2Offset": 29.1, "y2Offset": -20.8}, "encoding": {"x": {"field": "pos", "type": "quantitative", "scale": {"domain": [0.4, 2.6], "nice": false, "zero": false}, "axis": null}, "x2": {"field": "pos"}, "y": {"field": "v", "type": "quantitative", "title": "x-coordinate of FdFmin", "scale": {"domain": [0.2935, 0.4840], "nice": false, "zero": false}}, "y2": {"field": "v"}}},
{"data": {"name": "means"}, "transform": [{"filter": "datum.p == 'FdFmin' && datum.pos == 2"}], "mark": {"type": "point", "shape": "M-0.95,-0.244L0.95,-0.244Q1,-0.244 1,-0.194L1,0.194Q1,0.244 0.95,0.244L-0.95,0.244Q-1,0.244 -1,0.194L-1,-0.194Q-1,-0.244 -0.95,-0.244Z", "size": 14641, "filled": true, "fill": "#FFFFFF", "stroke": "#1A1A1A", "strokeWidth": 1.2, "opacity": 1, "xOffset": 29.1, "yOffset": -20.8}, "encoding": {"x": {"field": "pos", "type": "quantitative", "scale": {"domain": [0.4, 2.6], "nice": false, "zero": false}, "axis": null}, "y": {"field": "v", "type": "quantitative", "title": "x-coordinate of FdFmin", "scale": {"domain": [0.2935, 0.4840], "nice": false, "zero": false}}}},
{"data": {"name": "means"}, "transform": [{"filter": "datum.p == 'FdFmin' && datum.pos == 2"}], "mark": {"type": "text", "fontSize": 16, "color": "#000000", "align": "center", "baseline": "middle", "xOffset": 26.1, "yOffset": -20.8}, "encoding": {"x": {"field": "pos", "type": "quantitative", "scale": {"domain": [0.4, 2.6], "nice": false, "zero": false}, "axis": null}, "y": {"field": "v", "type": "quantitative", "title": "x-coordinate of FdFmin", "scale": {"domain": [0.2935, 0.4840], "nice": false, "zero": false}}, "text": {"field": "label"}}},
{"data": {"name": "means"}, "transform": [{"filter": "datum.p == 'FdFmin' && datum.pos == 1"}], "mark": {"type": "text", "align": "right", "baseline": "alphabetic", "fontSize": 22, "color": "#000000"}, "encoding": {"x": {"datum": 2.547, "type": "quantitative", "scale": {"domain": [0.4, 2.6], "nice": false, "zero": false}, "axis": null}, "y": {"datum": 0.3120, "type": "quantitative", "title": "x-coordinate of FdFmin", "scale": {"domain": [0.2935, 0.4840], "nice": false, "zero": false}}, "text": {"value": "x-coordinate of FdFmin"}}},
{"data": {"name": "means"}, "transform": [{"filter": "datum.p == 'FdFmin'"}], "mark": {"type": "point", "opacity": 0}, "encoding": {"x": {"field": "pos", "type": "quantitative", "scale": {"domain": [0.4, 2.6], "nice": false, "zero": false}, "axis": {"orient": "bottom", "values": [1, 2], "labelExpr": "'(n = 12)'", "labelFontSize": 16, "labelColor": "#666666", "labelPadding": 17, "labelOffset": -10, "labelFlush": false, "labelOverlap": false, "labelBound": false, "ticks": true, "tickSize": 5, "tickOpacity": 0, "grid": false, "domain": false, "title": "In favor of null:\u00a0\u00a0\u00a0\u00a0\u00a0\u00a0\u00a0\u00a0\u00a0\u00a0log\u00a0\u2091(BF\u00a0\u2080\u2081) =\u00a0\u00a0\u00a0\u221213.686378\u00a0\u00a0,\u00a0\u00a0r JZS Cauchy =\u00a0\u00a00.707000", "titleFontSize": 16.5, "titleFontWeight": "normal", "titleColor": "#000000", "titleX": 213.5, "titleY": 95.5, "titleAlign": "center", "titleBaseline": "alphabetic"}}, "y": {"field": "v", "type": "quantitative", "title": "x-coordinate of FdFmin", "scale": {"domain": [0.2935, 0.4840], "nice": false, "zero": false}}}}
],
"resolve": {"scale": {"x": "independent"}, "axis": {"x": "independent"}}
}
], "spacing": 17},
{"hconcat": [
{
"width": 506, "height": 374,
"title": {"text": "t Welch ( 20.134460\u00a0\u00a0) =\u00a0\u00a0\u00a0\u22129.059702\u00a0\u00a0,\u00a0\u00a0\u00a0p =\u00a0\u00a0\u00a0< 0.001", "anchor": "start", "frame": "group", "fontSize": 18, "fontWeight": "normal", "color": "#000000", "offset": -2.7, "baseline": "alphabetic"},
"layer": [
{"data": {"name": "pts"}, "transform": [{"filter": "datum.p == 'SdSmax'"}], "mark": {"type": "circle", "size": 135, "opacity": 0.38}, "encoding": {"x": {"field": "xj", "type": "quantitative", "scale": {"domain": [0.4, 2.6], "nice": false, "zero": false}, "axis": null}, "y": {"field": "v", "type": "quantitative", "title": "x-coordinate of SdSmax", "scale": {"domain": [0.3188, 0.5162], "nice": false, "zero": false}, "axis": {"values": [0.325, 0.35, 0.375, 0.4, 0.425, 0.45, 0.475, 0.5], "labelExpr": "abs(datum.value*20 - round(datum.value*20)) < 0.001 ? format(datum.value, '.2f') : ''", "labelFontSize": 17, "labelColor": "#4D4D4D", "labelPadding": 11, "labelOverlap": false, "labelFlush": false, "tickSize": 5.5, "tickColor": "#333333", "tickWidth": 1.2, "tickOpacity": {"condition": {"test": "abs(datum.value*20 - round(datum.value*20)) < 0.001", "value": 1}, "value": 0}, "grid": true, "gridColor": "#EBEBEB", "gridWidth": {"condition": {"test": "abs(datum.value*20 - round(datum.value*20)) < 0.001", "value": 1.6}, "value": 0.8}, "domain": false, "titleFontSize": 22, "titleFontWeight": "normal", "titleColor": "#000000", "titleAngle": 270, "titleX": -52, "titleY": 206.5, "titleAlign": "center", "titleBaseline": "alphabetic"}}, "color": {"field": "pos", "type": "nominal", "scale": {"domain": [1, 2], "range": ["#1B9E77", "#D95F02"]}, "legend": null}}},
{"data": {"name": "pts"}, "transform": [{"filter": "datum.p == 'SdSmax'"}], "mark": {"type": "boxplot", "size": 69, "extent": 1.5, "outliers": false, "box": {"fill": "transparent", "stroke": "#333333", "strokeWidth": 1.4}, "median": {"color": "#333333", "thickness": 3}, "rule": {"color": "#333333", "strokeWidth": 1.3}}, "encoding": {"x": {"field": "pos", "type": "quantitative", "scale": {"domain": [0.4, 2.6], "nice": false, "zero": false}, "axis": {"orient": "bottom", "values": [1, 2], "labelExpr": "datum.value == 1 ? 'normal subjects' : 'LQTS3'", "labelFontSize": 18, "labelColor": "#000000", "labelPadding": 5, "labelOffset": {"condition": {"test": "datum.value == 1", "value": 29}, "value": 5}, "labelFlush": false, "labelOverlap": false, "labelBound": false, "tickSize": 5, "tickColor": "#333333", "tickWidth": 1.2, "grid": true, "gridColor": "#EBEBEB", "gridWidth": 1.6, "domain": false, "title": "\u011dHedge = \u22123.571070, CI95% [\u22124.858488, \u22122.254138], nobs = 24", "titleFontSize": 18, "titleFontWeight": "normal", "titleColor": "#000000", "titleX": 217, "titleY": 61, "titleAlign": "center", "titleBaseline": "alphabetic"}}, "y": {"field": "v", "type": "quantitative", "title": "x-coordinate of SdSmax", "scale": {"domain": [0.3188, 0.5162], "nice": false, "zero": false}}}},
{"data": {"name": "pts"}, "transform": [{"filter": "datum.p == 'SdSmax' && datum.pos == 1"}, {"density": "v", "as": ["v", "density"], "steps": 120}], "mark": {"type": "area", "orient": "horizontal", "fill": "transparent", "stroke": "#333333", "strokeWidth": 1.4}, "encoding": {"x": {"field": "density", "type": "quantitative", "stack": "center", "impute": null, "scale": {"nice": false, "zero": true, "range": [80.5, 195.5]}, "axis": null}, "y": {"field": "v", "type": "quantitative", "title": "x-coordinate of SdSmax", "scale": {"domain": [0.3188, 0.5162], "nice": false, "zero": false}}}},
{"data": {"name": "pts"}, "transform": [{"filter": "datum.p == 'SdSmax' && datum.pos == 2"}, {"density": "v", "as": ["v", "density"], "steps": 120}], "mark": {"type": "area", "orient": "horizontal", "fill": "transparent", "stroke": "#333333", "strokeWidth": 1.4}, "encoding": {"x": {"field": "density", "type": "quantitative", "stack": "center", "impute": null, "scale": {"nice": false, "zero": true, "range": [333.5, 402.5]}, "axis": null}, "y": {"field": "v", "type": "quantitative", "title": "x-coordinate of SdSmax", "scale": {"domain": [0.3188, 0.5162], "nice": false, "zero": false}}}},
{"data": {"name": "means"}, "transform": [{"filter": "datum.p == 'SdSmax'"}], "mark": {"type": "circle", "size": 330, "color": "#8B0000", "opacity": 1}, "encoding": {"x": {"field": "pos", "type": "quantitative", "scale": {"domain": [0.4, 2.6], "nice": false, "zero": false}, "axis": null}, "y": {"field": "v", "type": "quantitative", "title": "x-coordinate of SdSmax", "scale": {"domain": [0.3188, 0.5162], "nice": false, "zero": false}}}},
{"data": {"name": "means"}, "transform": [{"filter": "datum.p == 'SdSmax' && datum.pos == 1"}], "mark": {"type": "rule", "color": "#000000", "strokeWidth": 1.3, "x2Offset": -28.5, "y2Offset": 21.8}, "encoding": {"x": {"field": "pos", "type": "quantitative", "scale": {"domain": [0.4, 2.6], "nice": false, "zero": false}, "axis": null}, "x2": {"field": "pos"}, "y": {"field": "v", "type": "quantitative", "title": "x-coordinate of SdSmax", "scale": {"domain": [0.3188, 0.5162], "nice": false, "zero": false}}, "y2": {"field": "v"}}},
{"data": {"name": "means"}, "transform": [{"filter": "datum.p == 'SdSmax' && datum.pos == 1"}], "mark": {"type": "point", "shape": "M-0.95,-0.244L0.95,-0.244Q1,-0.244 1,-0.194L1,0.194Q1,0.244 0.95,0.244L-0.95,0.244Q-1,0.244 -1,0.194L-1,-0.194Q-1,-0.244 -0.95,-0.244Z", "size": 14641, "filled": true, "fill": "#FFFFFF", "stroke": "#1A1A1A", "strokeWidth": 1.2, "opacity": 1, "xOffset": -28.5, "yOffset": 21.8}, "encoding": {"x": {"field": "pos", "type": "quantitative", "scale": {"domain": [0.4, 2.6], "nice": false, "zero": false}, "axis": null}, "y": {"field": "v", "type": "quantitative", "title": "x-coordinate of SdSmax", "scale": {"domain": [0.3188, 0.5162], "nice": false, "zero": false}}}},
{"data": {"name": "means"}, "transform": [{"filter": "datum.p == 'SdSmax' && datum.pos == 1"}], "mark": {"type": "text", "fontSize": 16, "color": "#000000", "align": "center", "baseline": "middle", "xOffset": -31.5, "yOffset": 21.8}, "encoding": {"x": {"field": "pos", "type": "quantitative", "scale": {"domain": [0.4, 2.6], "nice": false, "zero": false}, "axis": null}, "y": {"field": "v", "type": "quantitative", "title": "x-coordinate of SdSmax", "scale": {"domain": [0.3188, 0.5162], "nice": false, "zero": false}}, "text": {"field": "label"}}},
{"data": {"name": "means"}, "transform": [{"filter": "datum.p == 'SdSmax' && datum.pos == 2"}], "mark": {"type": "rule", "color": "#000000", "strokeWidth": 1.3, "x2Offset": 28.5, "y2Offset": -20.8}, "encoding": {"x": {"field": "pos", "type": "quantitative", "scale": {"domain": [0.4, 2.6], "nice": false, "zero": false}, "axis": null}, "x2": {"field": "pos"}, "y": {"field": "v", "type": "quantitative", "title": "x-coordinate of SdSmax", "scale": {"domain": [0.3188, 0.5162], "nice": false, "zero": false}}, "y2": {"field": "v"}}},
{"data": {"name": "means"}, "transform": [{"filter": "datum.p == 'SdSmax' && datum.pos == 2"}], "mark": {"type": "point", "shape": "M-0.95,-0.265L0.95,-0.265Q1,-0.265 1,-0.215L1,0.215Q1,0.265 0.95,0.265L-0.95,0.265Q-1,0.265 -1,0.215L-1,-0.215Q-1,-0.265 -0.95,-0.265Z", "size": 12432, "filled": true, "fill": "#FFFFFF", "stroke": "#1A1A1A", "strokeWidth": 1.2, "opacity": 1, "xOffset": 28.5, "yOffset": -20.8}, "encoding": {"x": {"field": "pos", "type": "quantitative", "scale": {"domain": [0.4, 2.6], "nice": false, "zero": false}, "axis": null}, "y": {"field": "v", "type": "quantitative", "title": "x-coordinate of SdSmax", "scale": {"domain": [0.3188, 0.5162], "nice": false, "zero": false}}}},
{"data": {"name": "means"}, "transform": [{"filter": "datum.p == 'SdSmax' && datum.pos == 2"}], "mark": {"type": "text", "fontSize": 16, "color": "#000000", "align": "center", "baseline": "middle", "xOffset": 26, "yOffset": -20.8}, "encoding": {"x": {"field": "pos", "type": "quantitative", "scale": {"domain": [0.4, 2.6], "nice": false, "zero": false}, "axis": null}, "y": {"field": "v", "type": "quantitative", "title": "x-coordinate of SdSmax", "scale": {"domain": [0.3188, 0.5162], "nice": false, "zero": false}}, "text": {"field": "label"}}},
{"data": {"name": "means"}, "transform": [{"filter": "datum.p == 'SdSmax' && datum.pos == 1"}], "mark": {"type": "text", "align": "right", "baseline": "alphabetic", "fontSize": 22, "color": "#000000"}, "encoding": {"x": {"datum": 2.539, "type": "quantitative", "scale": {"domain": [0.4, 2.6], "nice": false, "zero": false}, "axis": null}, "y": {"datum": 0.3335, "type": "quantitative", "title": "x-coordinate of SdSmax", "scale": {"domain": [0.3188, 0.5162], "nice": false, "zero": false}}, "text": {"value": "x-coordinate of SdSmax"}}},
{"data": {"name": "means"}, "transform": [{"filter": "datum.p == 'SdSmax'"}], "mark": {"type": "point", "opacity": 0}, "encoding": {"x": {"field": "pos", "type": "quantitative", "scale": {"domain": [0.4, 2.6], "nice": false, "zero": false}, "axis": {"orient": "bottom", "values": [1, 2], "labelExpr": "'(n = 12)'", "labelFontSize": 16, "labelColor": "#666666", "labelPadding": 17, "labelOffset": -10, "labelFlush": false, "labelOverlap": false, "labelBound": false, "ticks": true, "tickSize": 5, "tickOpacity": 0, "grid": false, "domain": false, "title": "In favor of null:\u00a0\u00a0\u00a0\u00a0\u00a0\u00a0\u00a0\u00a0\u00a0\u00a0log\u00a0\u2091(BF\u00a0\u2080\u2081) =\u00a0\u00a0\u00a0\u221213.832821\u00a0\u00a0,\u00a0\u00a0r JZS Cauchy =\u00a0\u00a00.707000", "titleFontSize": 16.5, "titleFontWeight": "normal", "titleColor": "#000000", "titleX": 213.5, "titleY": 95.5, "titleAlign": "center", "titleBaseline": "alphabetic"}}, "y": {"field": "v", "type": "quantitative", "title": "x-coordinate of SdSmax", "scale": {"domain": [0.3188, 0.5162], "nice": false, "zero": false}}}}
],
"resolve": {"scale": {"x": "independent"}, "axis": {"x": "independent"}}
},
{
"width": 506, "height": 374,
"title": {"text": "t Welch ( 20.384191\u00a0\u00a0) =\u00a0\u00a0\u00a0\u22128.359066\u00a0\u00a0,\u00a0\u00a0\u00a0p =\u00a0\u00a0\u00a0< 0.001", "anchor": "start", "frame": "group", "fontSize": 18, "fontWeight": "normal", "color": "#000000", "offset": -2.7, "baseline": "alphabetic"},
"layer": [
{"data": {"name": "pts"}, "transform": [{"filter": "datum.p == 'Te'"}], "mark": {"type": "circle", "size": 135, "opacity": 0.38}, "encoding": {"x": {"field": "xj", "type": "quantitative", "scale": {"domain": [0.4, 2.6], "nice": false, "zero": false}, "axis": null}, "y": {"field": "v", "type": "quantitative", "title": "x-coordinate of Te", "scale": {"domain": [0.3260, 0.5270], "nice": false, "zero": false}, "axis": {"values": [0.34, 0.36, 0.38, 0.4, 0.42, 0.44, 0.46, 0.48, 0.5, 0.52], "labelExpr": "abs(datum.value*25 - round(datum.value*25)) < 0.001 ? format(datum.value, '.2f') : ''", "labelFontSize": 17, "labelColor": "#4D4D4D", "labelPadding": 11, "labelOverlap": false, "labelFlush": false, "tickSize": 5.5, "tickColor": "#333333", "tickWidth": 1.2, "tickOpacity": {"condition": {"test": "abs(datum.value*25 - round(datum.value*25)) < 0.001", "value": 1}, "value": 0}, "grid": true, "gridColor": "#EBEBEB", "gridWidth": {"condition": {"test": "abs(datum.value*25 - round(datum.value*25)) < 0.001", "value": 1.6}, "value": 0.8}, "domain": false, "titleFontSize": 22, "titleFontWeight": "normal", "titleColor": "#000000", "titleAngle": 270, "titleX": -52, "titleY": 206.5, "titleAlign": "center", "titleBaseline": "alphabetic"}}, "color": {"field": "pos", "type": "nominal", "scale": {"domain": [1, 2], "range": ["#1B9E77", "#D95F02"]}, "legend": null}}},
{"data": {"name": "pts"}, "transform": [{"filter": "datum.p == 'Te'"}], "mark": {"type": "boxplot", "size": 69, "extent": 1.5, "outliers": false, "box": {"fill": "transparent", "stroke": "#333333", "strokeWidth": 1.4}, "median": {"color": "#333333", "thickness": 3}, "rule": {"color": "#333333", "strokeWidth": 1.3}}, "encoding": {"x": {"field": "pos", "type": "quantitative", "scale": {"domain": [0.4, 2.6], "nice": false, "zero": false}, "axis": {"orient": "bottom", "values": [1, 2], "labelExpr": "datum.value == 1 ? 'normal subjects' : 'LQTS3'", "labelFontSize": 18, "labelColor": "#000000", "labelPadding": 5, "labelOffset": {"condition": {"test": "datum.value == 1", "value": 29}, "value": 5}, "labelFlush": false, "labelOverlap": false, "labelBound": false, "tickSize": 5, "tickColor": "#333333", "tickWidth": 1.2, "grid": true, "gridColor": "#EBEBEB", "gridWidth": 1.6, "domain": false, "title": "\u011dHedge = \u22123.294899, CI95% [\u22124.517831, \u22122.041997], nobs = 24", "titleFontSize": 18, "titleFontWeight": "normal", "titleColor": "#000000", "titleX": 215.5, "titleY": 68, "titleAlign": "center", "titleBaseline": "alphabetic"}}, "y": {"field": "v", "type": "quantitative", "title": "x-coordinate of Te", "scale": {"domain": [0.3260, 0.5270], "nice": false, "zero": false}}}},
{"data": {"name": "pts"}, "transform": [{"filter": "datum.p == 'Te' && datum.pos == 1"}, {"density": "v", "as": ["v", "density"], "steps": 120}], "mark": {"type": "area", "orient": "horizontal", "fill": "transparent", "stroke": "#333333", "strokeWidth": 1.4}, "encoding": {"x": {"field": "density", "type": "quantitative", "stack": "center", "impute": null, "scale": {"nice": false, "zero": true, "range": [80.5, 195.5]}, "axis": null}, "y": {"field": "v", "type": "quantitative", "title": "x-coordinate of Te", "scale": {"domain": [0.3260, 0.5270], "nice": false, "zero": false}}}},
{"data": {"name": "pts"}, "transform": [{"filter": "datum.p == 'Te' && datum.pos == 2"}, {"density": "v", "as": ["v", "density"], "steps": 120}], "mark": {"type": "area", "orient": "horizontal", "fill": "transparent", "stroke": "#333333", "strokeWidth": 1.4}, "encoding": {"x": {"field": "density", "type": "quantitative", "stack": "center", "impute": null, "scale": {"nice": false, "zero": true, "range": [329, 407]}, "axis": null}, "y": {"field": "v", "type": "quantitative", "title": "x-coordinate of Te", "scale": {"domain": [0.3260, 0.5270], "nice": false, "zero": false}}}},
{"data": {"name": "means"}, "transform": [{"filter": "datum.p == 'Te'"}], "mark": {"type": "circle", "size": 330, "color": "#8B0000", "opacity": 1}, "encoding": {"x": {"field": "pos", "type": "quantitative", "scale": {"domain": [0.4, 2.6], "nice": false, "zero": false}, "axis": null}, "y": {"field": "v", "type": "quantitative", "title": "x-coordinate of Te", "scale": {"domain": [0.3260, 0.5270], "nice": false, "zero": false}}}},
{"data": {"name": "means"}, "transform": [{"filter": "datum.p == 'Te' && datum.pos == 1"}], "mark": {"type": "rule", "color": "#000000", "strokeWidth": 1.3, "x2Offset": 28.4, "y2Offset": -20.9}, "encoding": {"x": {"field": "pos", "type": "quantitative", "scale": {"domain": [0.4, 2.6], "nice": false, "zero": false}, "axis": null}, "x2": {"field": "pos"}, "y": {"field": "v", "type": "quantitative", "title": "x-coordinate of Te", "scale": {"domain": [0.3260, 0.5270], "nice": false, "zero": false}}, "y2": {"field": "v"}}},
{"data": {"name": "means"}, "transform": [{"filter": "datum.p == 'Te' && datum.pos == 1"}], "mark": {"type": "point", "shape": "M-0.95,-0.244L0.95,-0.244Q1,-0.244 1,-0.194L1,0.194Q1,0.244 0.95,0.244L-0.95,0.244Q-1,0.244 -1,0.194L-1,-0.194Q-1,-0.244 -0.95,-0.244Z", "size": 14641, "filled": true, "fill": "#FFFFFF", "stroke": "#1A1A1A", "strokeWidth": 1.2, "opacity": 1, "xOffset": 28.4, "yOffset": -20.9}, "encoding": {"x": {"field": "pos", "type": "quantitative", "scale": {"domain": [0.4, 2.6], "nice": false, "zero": false}, "axis": null}, "y": {"field": "v", "type": "quantitative", "title": "x-coordinate of Te", "scale": {"domain": [0.3260, 0.5270], "nice": false, "zero": false}}}},
{"data": {"name": "means"}, "transform": [{"filter": "datum.p == 'Te' && datum.pos == 1"}], "mark": {"type": "text", "fontSize": 16, "color": "#000000", "align": "center", "baseline": "middle", "xOffset": 25.4, "yOffset": -20.9}, "encoding": {"x": {"field": "pos", "type": "quantitative", "scale": {"domain": [0.4, 2.6], "nice": false, "zero": false}, "axis": null}, "y": {"field": "v", "type": "quantitative", "title": "x-coordinate of Te", "scale": {"domain": [0.3260, 0.5270], "nice": false, "zero": false}}, "text": {"field": "label"}}},
{"data": {"name": "means"}, "transform": [{"filter": "datum.p == 'Te' && datum.pos == 2"}], "mark": {"type": "rule", "color": "#000000", "strokeWidth": 1.3, "x2Offset": -29.6, "y2Offset": 21.3}, "encoding": {"x": {"field": "pos", "type": "quantitative", "scale": {"domain": [0.4, 2.6], "nice": false, "zero": false}, "axis": null}, "x2": {"field": "pos"}, "y": {"field": "v", "type": "quantitative", "title": "x-coordinate of Te", "scale": {"domain": [0.3260, 0.5270], "nice": false, "zero": false}}, "y2": {"field": "v"}}},
{"data": {"name": "means"}, "transform": [{"filter": "datum.p == 'Te' && datum.pos == 2"}], "mark": {"type": "point", "shape": "M-0.95,-0.244L0.95,-0.244Q1,-0.244 1,-0.194L1,0.194Q1,0.244 0.95,0.244L-0.95,0.244Q-1,0.244 -1,0.194L-1,-0.194Q-1,-0.244 -0.95,-0.244Z", "size": 14641, "filled": true, "fill": "#FFFFFF", "stroke": "#1A1A1A", "strokeWidth": 1.2, "opacity": 1, "xOffset": -29.6, "yOffset": 21.3}, "encoding": {"x": {"field": "pos", "type": "quantitative", "scale": {"domain": [0.4, 2.6], "nice": false, "zero": false}, "axis": null}, "y": {"field": "v", "type": "quantitative", "title": "x-coordinate of Te", "scale": {"domain": [0.3260, 0.5270], "nice": false, "zero": false}}}},
{"data": {"name": "means"}, "transform": [{"filter": "datum.p == 'Te' && datum.pos == 2"}], "mark": {"type": "text", "fontSize": 16, "color": "#000000", "align": "center", "baseline": "middle", "xOffset": -32.6, "yOffset": 21.3}, "encoding": {"x": {"field": "pos", "type": "quantitative", "scale": {"domain": [0.4, 2.6], "nice": false, "zero": false}, "axis": null}, "y": {"field": "v", "type": "quantitative", "title": "x-coordinate of Te", "scale": {"domain": [0.3260, 0.5270], "nice": false, "zero": false}}, "text": {"field": "label"}}},
{"data": {"name": "means"}, "transform": [{"filter": "datum.p == 'Te' && datum.pos == 1"}], "mark": {"type": "text", "align": "right", "baseline": "alphabetic", "fontSize": 22, "color": "#000000"}, "encoding": {"x": {"datum": 2.542, "type": "quantitative", "scale": {"domain": [0.4, 2.6], "nice": false, "zero": false}, "axis": null}, "y": {"datum": 0.3432, "type": "quantitative", "title": "x-coordinate of Te", "scale": {"domain": [0.3260, 0.5270], "nice": false, "zero": false}}, "text": {"value": "x-coordinate of Te"}}},
{"data": {"name": "means"}, "transform": [{"filter": "datum.p == 'Te'"}], "mark": {"type": "point", "opacity": 0}, "encoding": {"x": {"field": "pos", "type": "quantitative", "scale": {"domain": [0.4, 2.6], "nice": false, "zero": false}, "axis": {"orient": "bottom", "values": [1, 2], "labelExpr": "'(n = 12)'", "labelFontSize": 16, "labelColor": "#666666", "labelPadding": 17, "labelOffset": -10, "labelFlush": false, "labelOverlap": false, "labelBound": false, "ticks": true, "tickSize": 5, "tickOpacity": 0, "grid": false, "domain": false, "title": "In favor of null:\u00a0\u00a0\u00a0\u00a0\u00a0\u00a0\u00a0\u00a0\u00a0\u00a0log\u00a0\u2091(BF\u00a0\u2080\u2081) =\u00a0\u00a0\u00a0\u221212.558819\u00a0\u00a0,\u00a0\u00a0r JZS Cauchy =\u00a0\u00a00.707000", "titleFontSize": 16.5, "titleFontWeight": "normal", "titleColor": "#000000", "titleX": 213.5, "titleY": 95.5, "titleAlign": "center", "titleBaseline": "alphabetic"}}, "y": {"field": "v", "type": "quantitative", "title": "x-coordinate of Te", "scale": {"domain": [0.3260, 0.5270], "nice": false, "zero": false}}}}
],
"resolve": {"scale": {"x": "independent"}, "axis": {"x": "independent"}}
}
], "spacing": 17}
]
}
